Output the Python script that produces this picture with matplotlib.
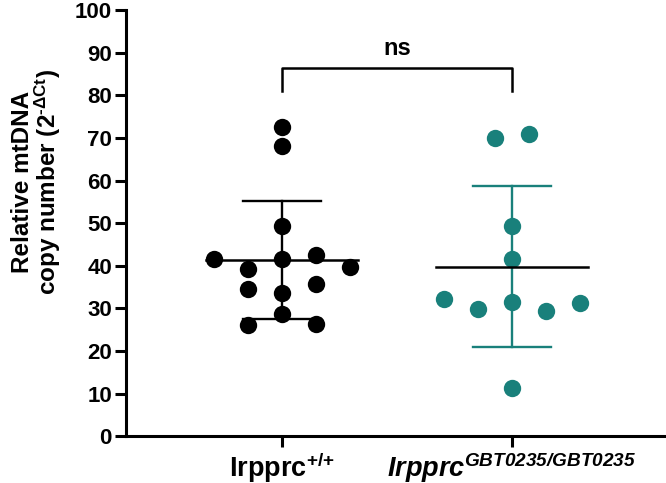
import numpy as np
import matplotlib
matplotlib.use("Agg")
import matplotlib.pyplot as plt

plt.rcParams['font.family'] = ['Liberation Sans', 'DejaVu Sans']
plt.rcParams['font.weight'] = 'bold'
plt.rcParams['mathtext.fontset'] = 'custom'
plt.rcParams['mathtext.rm'] = 'Liberation Sans:bold'
plt.rcParams['mathtext.it'] = 'Liberation Sans:bold:italic'
plt.rcParams['mathtext.bf'] = 'Liberation Sans:bold'
plt.rcParams['mathtext.sf'] = 'Liberation Sans:bold:italic'

# Данные
groups = ["wt", "mut"]
wt_values = [72.5, 68.0, 49.3, 41.5, 41.7, 42.5, 39.8, 39.2, 34.5, 35.7,
             33.5, 28.7, 26.1, 26.4]
wt_offsets = [0, 0, 0, -2, 0, 1, 2, -1, -1, 1, 0, 0, -1, 1]
mut_values = [70.1, 71.0, 49.3, 41.7, 32.2, 29.9, 31.5, 29.3, 31.3, 11.2]
mut_offsets = [-0.5, 0.5, 0, 0, -2, -1, 0, 1, 2, 0]
tick_labels = [r"Irpprc$^{\text{+/+}}$",
               r"$\mathsf{Irpprc}^{\mathsf{GBT0235/GBT0235}}$"]
colors = ["black", "#19807b"]

fig = plt.figure(figsize=(6.66, 4.83), dpi=100)
ax = fig.add_axes([0.189, 0.097, 0.811, 0.882])

step = 0.148
for i, (vals, offs, c) in enumerate(zip([wt_values, mut_values],
                                        [wt_offsets, mut_offsets], colors)):
    vals = np.array(vals)
    x = i + np.array(offs) * step
    ax.plot(x, vals, 'o', color=c, ms=12.5, mec='none', zorder=3, clip_on=False)
    m = vals.mean()
    sd = vals.std(ddof=1)
    ax.plot([i, i], [m - sd, m + sd], color=c, lw=1.7, zorder=2)
    ax.plot([i - 0.17, i + 0.17], [m + sd] * 2, color=c, lw=1.7, zorder=2)
    ax.plot([i - 0.17, i + 0.17], [m - sd] * 2, color=c, lw=1.7, zorder=2)
    ax.plot([i - 0.33, i + 0.33], [m, m], color='black', lw=1.8, zorder=4)

# скобка ns
ax.plot([0, 0, 1, 1], [81, 86.4, 86.4, 81], color='black', lw=1.8, clip_on=False)
ax.text(0.5, 89.4, "ns", ha='center', va='baseline', fontsize=17, fontweight='bold')

ax.set_xlim(-0.678, 0.67 + 1)
ax.set_ylim(0, 100)
ax.set_yticks(range(0, 101, 10))
ax.set_xticks([0, 1])
ax.set_xticklabels(tick_labels, fontsize=19.5, fontweight='bold')
ax.set_ylabel("Relative mtDNA\ncopy number (2$^{\\text{-ΔCt}}$)",
              fontsize=17.5, fontweight='bold', linespacing=0.92)
ax.yaxis.set_label_coords(-0.117, 0.596)
for lab in ax.get_yticklabels():
    lab.set_fontsize(16)
    lab.set_fontweight('bold')
for s in ['top', 'right']:
    ax.spines[s].set_visible(False)
for s in ['left', 'bottom']:
    ax.spines[s].set_linewidth(2.2)
ax.tick_params(axis='both', width=2.2, length=8, direction='out', pad=2)

fig.savefig("out.png", dpi=100)
